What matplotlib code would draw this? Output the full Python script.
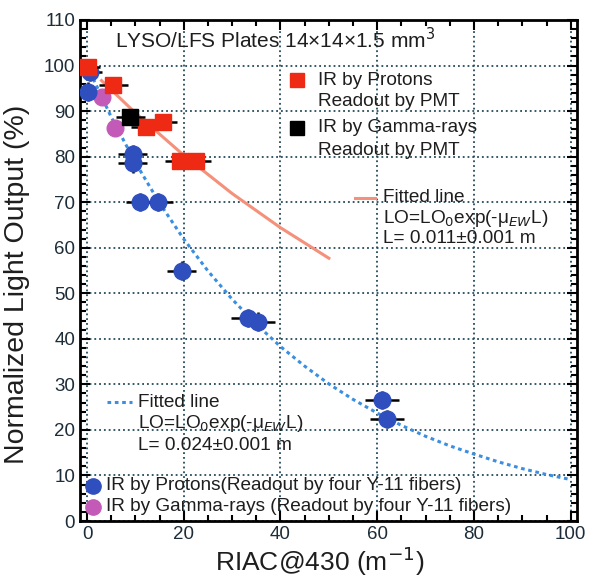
import matplotlib.pyplot as plt
import numpy as np

plt.rcParams['font.family'] = ['Liberation Sans', 'DejaVu Sans']

# IR by protons, PMT readout (red squares)
p_pmt_x = [0.2, 5.4, 12.1, 15.7, 19.2, 22.6]
p_pmt_y = [99.7, 95.8, 86.4, 87.6, 79.0, 79.0]
p_pmt_xerr = [2.5, 3.0, 3.0, 3.0, 3.0, 3.0]

# IR by gamma-rays, PMT readout (black square)
g_pmt_x = [8.9]
g_pmt_y = [88.8]
g_pmt_xerr = [3.0]

# IR by protons, four Y-11 fibers (blue circles)
p_wls_x = [0.6, 0.2, 9.5, 9.5, 11.0, 14.7, 19.6, 33.3, 35.3, 61.0, 62.0]
p_wls_y = [98.5, 94.3, 80.6, 78.5, 70.0, 70.0, 55.0, 44.6, 43.8, 26.6, 22.4]
p_wls_xerr = [2.5, 2.5, 3.0, 3.0, 3.0, 3.0, 3.0, 3.5, 3.5, 3.5, 3.5]
p_wls_yerr = [2.0, 2.0, 2.0, 2.0, 2.0, 2.0, 2.0, 2.0, 2.0, 2.0, 2.0]

# IR by gamma-rays, four Y-11 fibers (magenta circles)
g_wls_x = [3.2, 5.8]
g_wls_y = [93.0, 86.2]

# fitted lines
fit_pmt_x = [3, 10, 20, 30, 40, 50]
fit_pmt_y = [96.7, 89.6, 80.3, 71.9, 64.4, 57.7]
fit_wls_x = [0, 5, 10, 15, 20, 25, 30, 35, 40, 45, 50, 55, 60, 65, 70, 75, 80, 85, 90, 95, 100]
fit_wls_y = [100, 88.7, 78.7, 69.8, 61.9, 54.9, 48.7, 43.2, 38.3, 34.0, 30.1, 26.7,
             23.7, 21.0, 18.6, 16.5, 14.7, 13.0, 11.5, 10.2, 9.1]

RED = '#ee2a14'
BLUE = '#2f4fbf'
MAG = '#c45ab8'
LBLUE = '#3b8fe0'
SALMON = '#f5907a'
TXT = '#1e1e1e'

fig = plt.figure(figsize=(5.94, 5.76), dpi=100)
ax = fig.add_axes([80 / 594, 1 - 521 / 576, 497 / 594, 501 / 576])

ax.set_xlim(-1.45, 101.3)
ax.set_ylim(0, 110)

ax.plot(fit_wls_x, fit_wls_y, ls=(0, (1.2, 1.2)), color=LBLUE, lw=2.2, zorder=2)
ax.plot(fit_pmt_x, fit_pmt_y, '-', color=SALMON, lw=2.2, zorder=2)

ax.errorbar(p_wls_x, p_wls_y, xerr=p_wls_xerr, yerr=p_wls_yerr, fmt='o', ms=12,
            color=BLUE, ecolor='black', elinewidth=1.8, capsize=0, zorder=4)
ax.plot(g_wls_x, g_wls_y, 'o', ms=12, color=MAG, zorder=4)
ax.errorbar(p_pmt_x, p_pmt_y, xerr=p_pmt_xerr, fmt='s', ms=12, color=RED,
            ecolor='black', elinewidth=1.8, capsize=0, zorder=5)
ax.errorbar(g_pmt_x, g_pmt_y, xerr=g_pmt_xerr, fmt='s', ms=12, color='black',
            ecolor='black', elinewidth=1.8, capsize=0, zorder=5)

ax.set_xticks(np.arange(0, 101, 20))
ax.set_yticks(np.arange(0, 111, 10))
ax.set_xticks(np.arange(0, 101, 5), minor=True)
ax.set_yticks(np.arange(0, 111, 2), minor=True)
ax.tick_params(which='both', direction='in', top=True, right=True, width=1.5,
               labelsize=13.5, labelcolor='#1c2c38')
ax.tick_params(which='major', length=7)
ax.tick_params(which='minor', length=4)
for s in ax.spines.values():
    s.set_linewidth(2)
ax.grid(True, which='major', ls=':', color='#244a5a', lw=1.3)
ax.set_axisbelow(True)

ax.set_xlabel('RIAC@430 (m$^{-1}$)', fontsize=19, color=TXT)
ax.xaxis.set_label_coords(0.483, -0.046)
ax.set_ylabel('Normalized Light Output (%)', fontsize=20.5, color=TXT)
ax.yaxis.set_label_coords(-0.1, 0.473)

fs = 13.7
ax.text(5.8, 105.6, 'LYSO/LFS Plates 14×14×1.5 mm$^3$', fontsize=15, color=TXT, va='center')

ax.plot([43.4], [96.8], 's', ms=10, color=RED)
ax.text(47.7, 96.8, 'IR by Protons', fontsize=fs, color=TXT, va='center')
ax.text(47.7, 92.0, 'Readout by PMT', fontsize=fs, color=TXT, va='center')
ax.plot([43.4], [86.3], 's', ms=10, color='black')
ax.text(47.7, 86.3, 'IR by Gamma-rays', fontsize=fs, color=TXT, va='center')
ax.text(47.7, 81.4, 'Readout by PMT', fontsize=fs, color=TXT, va='center')

ax.plot([55.4, 59.5], [70.9, 70.9], '-', color=SALMON, lw=2.2)
ax.text(61.2, 71.1, 'Fitted line', fontsize=fs, color=TXT, va='center')
ax.text(61.2, 66.5, 'LO=LO$_0$exp(-μ$_{EW}$L)', fontsize=fs, color=TXT, va='center')
ax.text(61.2, 62.1, 'L= 0.011±0.001 m', fontsize=fs, color=TXT, va='center')

ax.plot([4.1, 9.3], [26.1, 26.1], ls=(0, (1.2, 1.2)), color=LBLUE, lw=2.2)
ax.text(10.5, 26.1, 'Fitted line', fontsize=fs, color=TXT, va='center')
ax.text(10.5, 21.3, 'LO=LO$_0$exp(-μ$_{EW}$L)', fontsize=fs, color=TXT, va='center')
ax.text(10.5, 16.5, 'L= 0.024±0.001 m', fontsize=fs, color=TXT, va='center')

ax.plot([1.2], [7.7], 'o', ms=11, color=BLUE)
ax.text(3.9, 7.7, 'IR by Protons(Readout by four Y-11 fibers)', fontsize=fs, color=TXT, va='center')
ax.plot([1.2], [3.1], 'o', ms=11, color=MAG)
ax.text(3.9, 3.1, 'IR by Gamma-rays (Readout by four Y-11 fibers)', fontsize=fs, color=TXT, va='center')

fig.savefig('out.png', dpi=100)
